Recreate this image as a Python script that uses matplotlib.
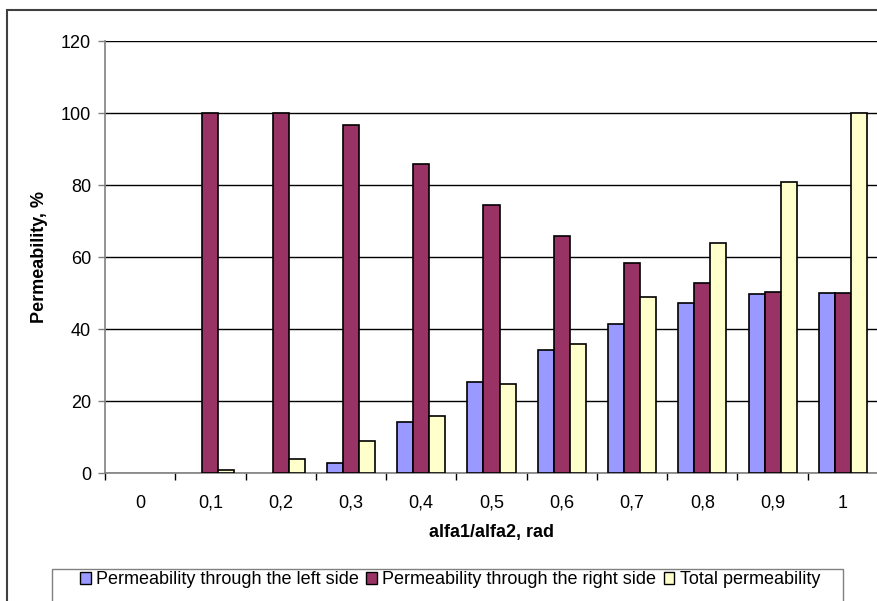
import numpy as np
import matplotlib.pyplot as plt
from matplotlib.patches import Rectangle, Patch
from matplotlib.ticker import FixedLocator

plt.rcParams['font.family'] = ['Liberation Sans', 'DejaVu Sans']

categories = ['0', '0,1', '0,2', '0,3', '0,4', '0,5', '0,6', '0,7', '0,8', '0,9', '1']
left_side = [0, 0, 0, 2.8, 14.3, 25.2, 34.3, 41.5, 47.2, 49.6, 50]
right_side = [0, 100, 100, 96.8, 85.7, 74.4, 65.7, 58.4, 52.9, 50.4, 50]
total = [0, 0.8, 3.9, 8.8, 15.9, 24.7, 35.8, 48.8, 64.0, 80.8, 100]
names = ['Permeability through the left side', 'Permeability through the right side',
         'Total permeability']
colors = ['#9999FF', '#993366', '#FFFFCC']

W, H = 877, 601
FS = 13
fig = plt.figure(figsize=(W / 100, H / 100), dpi=100)
ax = fig.add_axes([105 / W, 1 - 473 / H, 773 / W, 432 / H])

x = np.arange(len(categories))
bw = 0.228
for k, (vals, col) in enumerate(zip([left_side, right_side, total], colors)):
    lw = [1.2 if v > 0 else 0 for v in vals]
    ax.bar(x + (k - 1) * bw, vals, bw, color=col, edgecolor='black', linewidth=lw, zorder=3)

ax.set_xlim(-0.5, len(categories) - 0.5)
ax.set_ylim(0, 120)
ax.set_yticks(np.arange(0, 121, 20))
ax.yaxis.grid(True, color='black', linewidth=1, zorder=0)
ax.set_xticks(x)
ax.set_xticklabels(categories, va='baseline')
ax.xaxis.set_minor_locator(FixedLocator(np.arange(-0.5, len(categories), 1.0)))
ax.tick_params(axis='x', which='major', length=0, pad=25, labelsize=FS)
ax.tick_params(axis='x', which='minor', length=5, width=1, color='black', direction='out')
ax.tick_params(axis='y', length=5, width=1, direction='out', color='#808080', pad=5,
               labelsize=FS)
for s in ['top', 'right']:
    ax.spines[s].set_visible(False)
ax.spines['left'].set_color('#808080')
ax.spines['bottom'].set_color('#808080')
ax.spines['left'].set_linewidth(1.2)
ax.spines['bottom'].set_linewidth(1.2)

ax.set_ylabel('Permeability, %', fontweight='bold', fontsize=FS, labelpad=9)
ax.set_xlabel('alfa1/alfa2, rad', fontweight='bold', fontsize=FS, labelpad=9)

# outer chart frame and legend box (cut off by the image edge)
fig.patches.append(Rectangle((7 / W, -0.1), 1.2, 1 - 10 / H + 0.1, transform=fig.transFigure,
                             fill=False, edgecolor='#404040', linewidth=1.5))
fig.patches.append(Rectangle((52 / W, -0.1), 791 / W, 1 - 569 / H + 0.1,
                             transform=fig.transFigure, fill=False, edgecolor='#808080',
                             linewidth=1))
handles = [Patch(facecolor=c, edgecolor='black', linewidth=1, label=n)
           for c, n in zip(colors, names)]
fig.legend(handles=handles, loc='center', bbox_to_anchor=(450 / W, 1 - 580 / H), ncol=3,
           frameon=False, fontsize=FS, handlelength=0.6, handleheight=0.6,
           handletextpad=0.3, columnspacing=0.4, borderaxespad=0)

fig.savefig('out.png', dpi=100)
